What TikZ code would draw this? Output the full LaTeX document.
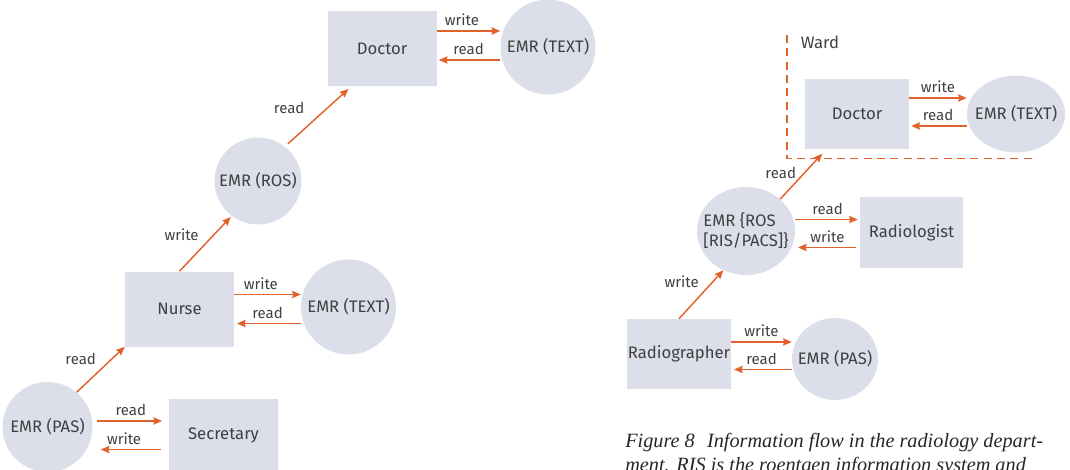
\documentclass[tikz,border=0pt]{standalone}
\usepackage{fontspec}
\setmainfont{Fira Sans}
\newfontfamily\capfont{Liberation Serif}
\usetikzlibrary{shapes.geometric,arrows.meta}
\definecolor{boxfill}{HTML}{DCDFEA}
\definecolor{flowc}{HTML}{E2622C}
\definecolor{ink}{HTML}{404040}
\begin{document}
\begin{tikzpicture}[x=0.75pt,y=-0.75pt,
  every node/.style={text=ink, font=\fontsize{12.5}{15}\selectfont},
  every label/.style={text=ink, font=\fontsize{12.5}{15}\selectfont, inner sep=0pt},
  role/.style={rectangle, fill=boxfill, inner sep=0pt},
  store/.style={ellipse, fill=boxfill, inner sep=0pt},
  flow/.style={draw=flowc, line width=1.1pt, -{Stealth[length=6.5pt,width=5.5pt,inset=0.8pt]}},
  lbl/.style={midway, anchor=base, yshift=4pt, font=\fontsize{11.25}{14}\selectfont},
  dlbl/.style={midway, font=\fontsize{11.25}{14}\selectfont},
  ward/.style={draw=flowc, line width=1.1pt, dash pattern=on 6pt off 4pt},
  ]
\useasboundingbox (0,0) rectangle (1070,470);
\clip (0,0) rectangle (1070,470);

% ---- outpatient flow (left) ----
\node[role, minimum width=81.75pt, minimum height=56.25pt] (doc1) at (382,48.5) {Doctor};
\node[store, minimum width=71.25pt, minimum height=71.25pt, label=center:EMR (TEXT)] (txt1) at (548,47) {};
\node[store, minimum width=65.25pt, minimum height=65.25pt, label=center:EMR (ROS)] (ros1) at (258,181) {};
\node[role, minimum width=81.75pt, minimum height=56.25pt] (nurse) at (179.5,309) {Nurse};
\node[store, minimum width=71.25pt, minimum height=71.25pt, label=center:EMR (TEXT)] (txt2) at (348.5,307) {};
\node[store, minimum width=67.5pt, minimum height=67.5pt, label=center:EMR (PAS)] (pas1) at (47.5,427) {};
\node[role, minimum width=81.75pt, minimum height=54pt] (sec) at (223.5,435) {Secretary};

\draw[flow] (doc1.east |- 0,31) -- (txt1.west |- 0,31) node[lbl, xshift=-5pt] {write};
\draw[flow, shorten >=1.5pt] (txt1.west |- 0,60) -- (doc1.east |- 0,60) node[lbl] {read};
\draw[flow] (nurse.east |- 0,294.5) -- (txt2.west |- 0,294.5) node[lbl, xshift=-5pt] {write};
\draw[flow, shorten >=2pt] (txt2.west |- 0,323.5) -- (nurse.east |- 0,323.5) node[lbl] {read};
\draw[flow, shorten <=3pt, shorten >=5pt] (pas1.east |- 0,421) -- (sec.west |- 0,421) node[lbl] {read};
\draw[flow, shorten <=6pt, shorten >=6pt] (sec.west |- 0,449.5) -- (pas1.east |- 0,449.5) node[lbl, xshift=-5pt] {write};

\draw[flow] (pas1.50) -- (nurse.south west) node[dlbl, xshift=-15pt, yshift=8.25pt] {read};
\draw[flow, shorten >=1pt] (nurse.north) -- (ros1.233) node[dlbl, xshift=-18pt, yshift=7pt] {write};
\draw[flow, shorten <=3pt, shorten >=3pt] (ros1.52) -- (doc1.231) node[dlbl, xshift=-21.75pt, yshift=6pt] {read};

% ---- radiology department (right) ----
\draw[ward] (787,35) -- (787,158.5) -- (1032,158.5);
\node (wardlbl) at (820,42) {Ward};
\node[role, minimum width=78pt, minimum height=52.5pt] (doc2) at (857,114) {Doctor};
\node[store, minimum width=73.5pt, minimum height=57.75pt, label=center:EMR (TEXT)] (txt3) at (1016,114) {};
\node[store, minimum width=73.5pt, minimum height=66pt, label={[align=left]center:EMR \{ROS\\{}[RIS/PACS]\}}] (ros2) at (746,231) {};
\node[role, minimum width=77.25pt, minimum height=53.25pt] (rlog) at (911.5,232.5) {Radiologist};
\node[role, minimum width=78pt, minimum height=52.5pt] (rgr) at (679,354) {Radiographer};
\node[store, minimum width=64.5pt, minimum height=61.5pt, label=center:EMR (PAS)] (pas2) at (835,359) {};

\draw[flow] (doc2.east |- 0,98) -- (txt3.west |- 0,98) node[lbl] {write};
\draw[flow, shorten >=1.5pt] (txt3.west |- 0,126) -- (doc2.east |- 0,126) node[lbl] {read};
\draw[flow, shorten >=1.5pt] (ros2.east |- 0,219.5) -- (rlog.west |- 0,219.5) node[lbl] {read};
\draw[flow, shorten <=3pt, shorten >=2pt] (rlog.west |- 0,247.5) -- (ros2.east |- 0,247.5) node[lbl] {write};
\draw[flow] (rgr.east |- 0,342) -- (pas2.west |- 0,342) node[lbl] {write};
\draw[flow, shorten >=2pt] (pas2.west |- 0,369.5) -- (rgr.east |- 0,369.5) node[lbl] {read};

\draw[flow] (rgr.north) -- (ros2.240) node[dlbl, xshift=-14.6pt, yshift=9.75pt] {write};
\draw[flow, shorten >=4.5pt] (ros2.43) -- (doc2.229) node[dlbl, xshift=-16.9pt, yshift=1.1pt] {read};

% ---- caption ----
\node[anchor=base west, inner sep=0pt, text=black!85, font=\capfont\itshape\fontsize{15.2}{18}\selectfont] (cap1) at (625,447) {Figure 8\hspace{0.6em}Information flow in the radiology depart-};
\node[anchor=base west, inner sep=0pt, text=black!85, font=\capfont\itshape\fontsize{15.2}{18}\selectfont] (cap2) at (625,471.5) {ment. RIS is the roentgen information system and};
\end{tikzpicture}
\end{document}
